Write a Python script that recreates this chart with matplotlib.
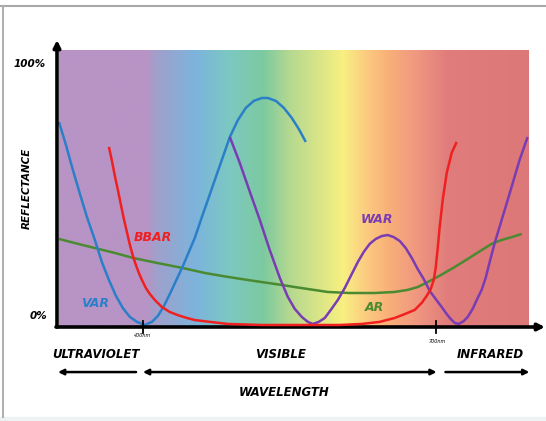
import numpy as np
import matplotlib
matplotlib.use("Agg")
import matplotlib.pyplot as plt
from matplotlib.colors import LinearSegmentedColormap
from matplotlib.lines import Line2D

# reflectance curves (wavelength nm, reflectance %)
var_nm = [314.0, 321.2, 328.3, 335.5, 342.7, 350.8, 358.0, 365.2, 372.4, 379.5, 386.7, 393.9,
          402.0, 409.2, 415.4, 421.5, 427.6, 434.8, 441.0, 447.1, 453.2, 460.4, 466.6, 473.7,
          480.9, 489.1, 497.3, 505.5, 513.7, 521.9, 528.0, 536.2, 544.4, 552.6, 559.7, 566.9]
var_r = [78.1, 69.2, 59.6, 50.4, 41.5, 32.7, 24.2, 17.3, 11.2, 6.5, 3.1, 1.2,
         0.0, 1.2, 3.5, 7.3, 11.9, 17.7, 22.7, 28.1, 33.5, 41.5, 48.1, 55.8,
         63.5, 72.3, 78.8, 83.5, 86.2, 87.3, 87.3, 86.2, 83.5, 79.6, 75.4, 70.4]

bbar_nm = [365.2, 368.3, 371.3, 374.4, 377.5, 380.5, 383.6, 386.7, 389.8, 392.8, 395.9, 399.0,
           403.1, 407.2, 412.3, 419.5, 427.6, 435.8, 445.1, 453.2, 468.6, 487.0, 521.9, 560.8,
           601.7, 624.3, 642.7, 658.0, 668.3, 678.5, 685.7, 690.8, 694.9, 698.0, 700.0, 702.1,
           704.1, 707.2, 711.3, 716.4, 721.5]
bbar_r = [68.5, 63.1, 57.3, 51.9, 46.2, 40.8, 35.8, 30.8, 26.5, 23.1, 20.0, 17.3,
          14.2, 11.9, 9.6, 6.9, 5.0, 3.8, 2.7, 1.9, 1.2, 0.4, 0.0, 0.0,
          0.0, 0.4, 1.2, 2.7, 4.2, 5.8, 8.5, 11.2, 13.8, 17.3, 21.9, 29.6,
          37.7, 48.1, 58.5, 66.2, 70.4]

war_nm = [489.1, 499.3, 509.6, 519.8, 530.0, 540.3, 548.5, 555.6, 562.8, 569.0, 574.1, 580.2,
          586.4, 592.5, 599.7, 606.8, 614.0, 620.2, 626.3, 632.4, 638.6, 644.7, 650.9, 657.0,
          663.2, 669.3, 675.5, 681.6, 687.7, 693.9, 700.0, 706.2, 711.3, 715.4, 719.5, 723.6,
          728.7, 732.8, 737.9, 743.0, 747.1, 751.2, 755.3, 760.4, 767.6, 773.8, 779.9, 786.0, 794.2]
war_r = [72.3, 62.3, 51.2, 40.4, 28.8, 18.1, 10.8, 6.2, 3.1, 1.2, 0.4, 1.2,
         2.7, 5.8, 9.6, 14.2, 19.6, 24.2, 28.1, 31.2, 33.1, 34.2, 34.6, 33.8,
         32.3, 29.6, 25.8, 21.5, 17.7, 13.1, 10.0, 6.9, 4.2, 2.3, 0.8, 0.4,
         1.5, 3.1, 6.2, 10.4, 13.5, 18.1, 24.2, 31.5, 40.4, 48.1, 55.8, 63.5, 72.3]

ar_nm = [314.0, 330.4, 350.8, 371.3, 389.8, 415.4, 441.0, 463.5, 487.0, 514.7, 542.3, 555.6,
         589.4, 612.0, 637.6, 658.0, 671.4, 681.6, 691.8, 705.2, 719.5, 732.8, 747.1, 757.4,
         767.6, 777.9, 788.1]
ar_r = [33.1, 31.5, 29.6, 27.7, 25.8, 23.8, 21.9, 20.0, 18.5, 16.9, 15.4, 14.6,
        12.7, 12.3, 12.3, 12.7, 13.5, 14.6, 16.5, 19.2, 22.3, 25.4, 28.8, 31.2,
        32.7, 33.8, 35.0]

# spectrum background stops
spec_nm = [314, 403, 413, 454, 488, 523, 550, 605, 631, 652, 680, 713, 795]
spec_col = ["#b794c5", "#b794c5", "#a0a0cc", "#7cb4dc", "#7cc8c2", "#7ccaa0", "#b4d890",
            "#f8f080", "#fcc880", "#f8b078", "#f09880", "#e07c7c", "#dc7878"]

FONT = ["Liberation Sans Narrow", "DejaVu Sans"]

fig = plt.figure(figsize=(5.46, 4.21), dpi=100)
ax = fig.add_axes([57 / 546, 1 - 327 / 421, 488 / 546, 287 / 421])
ax.set_xlim(312, 812)
ax.set_ylim(-0.77, 109.6)
ax.axis("off")

# gradient
pos = [(v - spec_nm[0]) / (spec_nm[-1] - spec_nm[0]) for v in spec_nm]
cmap = LinearSegmentedColormap.from_list("spec", list(zip(pos, spec_col)))
grad = np.linspace(0, 1, 500).reshape(1, -1)
ax.imshow(grad, cmap=cmap, aspect="auto", extent=[spec_nm[0], spec_nm[-1], -0.77, 105.4],
          zorder=0, interpolation="bilinear")

lw = 1.8
style = dict(lw=lw, solid_joinstyle="round", solid_capstyle="butt")
ax.plot(ar_nm, ar_r, color="#4a8a30", zorder=2, **style)
ax.plot(var_nm, var_r, color="#2a7fc8", zorder=3, **style)
ax.plot(war_nm, war_r, color="#7a3cb4", zorder=3, **style)
ax.plot(bbar_nm, bbar_r, color="#f02020", zorder=4, **style)

# axes with arrow heads
arr = dict(arrowstyle="-|>", lw=2.6, color="black", mutation_scale=10, shrinkA=0, shrinkB=0)
ax.annotate("", xy=(312, 109.6), xytext=(312, -0.77), arrowprops=arr, annotation_clip=False)
ax.annotate("", xy=(812, -0.77), xytext=(311, -0.77), arrowprops=arr, annotation_clip=False)
for t in [400, 700]:
    ax.plot([t, t], [-3.0, 1.5], color="black", lw=1.3, clip_on=False, zorder=5)
ax.text(400, -3.9, "400nm", fontsize=3.5, style="italic", ha="center", va="center", family=FONT)
ax.text(702, -6.5, "700nm", fontsize=3.5, style="italic", ha="center", va="center", family=FONT)

tkw = dict(fontsize=7.5, fontweight="bold", style="italic", ha="center", va="center", family=FONT)
ax.text(284, 100.4, "100%", **tkw)
ax.text(292.5, 3.5, "0%", **tkw)
ax.text(281, 52.7, "REFLECTANCE", rotation=90, **tkw)

# curve labels
lkw = dict(fontsize=9, fontweight="bold", style="italic", ha="center", va="center", family=FONT)
ax.text(351, 8.1, "VAR", color="#2a7fc8", **lkw)
ax.text(410, 33.5, "BBAR", color="#f02020", **lkw)
ax.text(640, 40.4, "WAR", color="#7a3cb4", **lkw)
ax.text(637.6, 6.9, "AR", color="#4a8a30", **lkw)

# regions below the axis
bkw = dict(fontsize=8.5, fontweight="bold", style="italic", ha="center", va="center", family=FONT)
ax.text(352, -11.5, "ULTRAVIOLET", **bkw)
ax.text(541, -11.5, "VISIBLE", **bkw)
ax.text(756, -11.5, "INFRARED", **bkw)
ax.text(545, -25.8, "WAVELENGTH", **bkw)

ha = dict(arrowstyle="-|>", lw=1.8, color="black", mutation_scale=8, shrinkA=0, shrinkB=0)
hb = dict(arrowstyle="<|-|>", lw=1.8, color="black", mutation_scale=8, shrinkA=0, shrinkB=0)
ax.annotate("", xy=(313, -18.1), xytext=(393, -18.1), arrowprops=ha, annotation_clip=False)
ax.annotate("", xy=(701, -18.1), xytext=(400, -18.1), arrowprops=hb, annotation_clip=False)
ax.annotate("", xy=(796, -18.1), xytext=(710, -18.1), arrowprops=ha, annotation_clip=False)

# page frame
fig.patches.append(plt.Rectangle((0, 0), 1, 4 / 421, transform=fig.transFigure,
                                 color="#eef2f2", zorder=-1))
fig.lines.append(Line2D([0, 1], [1 - 6 / 421, 1 - 6 / 421], transform=fig.transFigure,
                        color="#a8a8a8", lw=1.5))
fig.lines.append(Line2D([3 / 546, 3 / 546], [4 / 421, 1 - 6 / 421], transform=fig.transFigure,
                        color="#b0b0b0", lw=1.5))

fig.savefig("out.png", dpi=100)
